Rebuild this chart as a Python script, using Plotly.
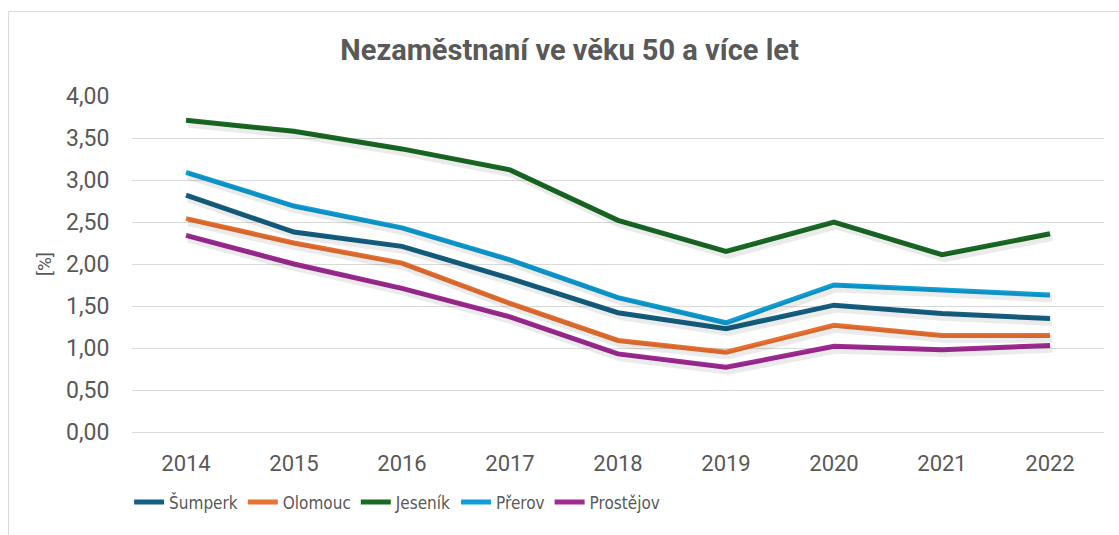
import plotly.graph_objects as go

years = ["2014", "2015", "2016", "2017", "2018", "2019", "2020", "2021", "2022"]
sumperk = [2.82, 2.38, 2.21, 1.83, 1.42, 1.23, 1.51, 1.41, 1.35]
olomouc = [2.54, 2.25, 2.01, 1.53, 1.09, 0.95, 1.27, 1.15, 1.15]
jesenik = [3.71, 3.58, 3.37, 3.12, 2.52, 2.15, 2.50, 2.11, 2.36]
prerov = [3.09, 2.69, 2.43, 2.05, 1.60, 1.30, 1.75, 1.69, 1.63]
prostejov = [2.34, 2.00, 1.71, 1.37, 0.93, 0.77, 1.02, 0.98, 1.03]

series = [
    ("Šumperk", sumperk, "#156082"),
    ("Olomouc", olomouc, "#E97132"),
    ("Jeseník", jesenik, "#196B24"),
    ("Přerov", prerov, "#0F9ED5"),
    ("Prostějov", prostejov, "#A02B93"),
]

FONT = "Roboto"
NARROW = "DejaVu Sans Condensed"
GRAY = "#595959"

fig = go.Figure()
# soft drop shadows on a slightly shifted overlay axis pair
for name, vals, col in series:
    fig.add_trace(go.Scatter(x=years, y=vals, mode="lines", showlegend=False,
                             hoverinfo="skip", xaxis="x2", yaxis="y2",
                             line=dict(color="rgba(0,0,0,0.08)", width=8)))
for name, vals, col in series:
    fig.add_trace(go.Scatter(x=years, y=vals, mode="lines", name=name,
                             line=dict(color=col, width=5)))

fig.update_layout(
    width=1119, height=535,
    paper_bgcolor="white", plot_bgcolor="white",
    separators=", ",
    margin=dict(l=132, r=15, t=96, b=103),
    font=dict(family=FONT, color=GRAY, size=18),
    title=dict(text="<b>Nezaměstnaní ve věku 50 a více let</b>",
               x=0.509, xref="container", xanchor="center",
               y=0.907, yanchor="middle",
               font=dict(family=FONT, size=29, color=GRAY)),
    xaxis=dict(type="category", range=[-0.5, 8.5], showgrid=False,
               zeroline=False, showline=False, ticks="outside", ticklen=12,
               tickcolor="rgba(0,0,0,0)",
               tickfont=dict(size=22, color=GRAY)),
    xaxis2=dict(type="category", range=[-0.52, 8.48], overlaying="x",
                visible=False),
    yaxis=dict(range=[0, 4], dtick=0.5, tickformat=".2f",
               showgrid=True, gridcolor="#D9D9D9", gridwidth=1,
               zeroline=True, zerolinecolor="#D9D9D9", zerolinewidth=1,
               showline=False, ticks="outside", ticklen=17,
               tickcolor="rgba(0,0,0,0)",
               tickfont=dict(size=23, color=GRAY),
               title=dict(text="[%]", standoff=9,
                          font=dict(size=19, color=GRAY))),
    yaxis2=dict(range=[0.04, 4.04], overlaying="y", visible=False),
    legend=dict(orientation="h", x=-0.003, xanchor="left", y=-0.21,
                yanchor="middle", font=dict(family=NARROW, size=17, color=GRAY),
                itemwidth=30, tracegroupgap=0, bgcolor="rgba(0,0,0,0)"),
    shapes=[dict(type="rect", xref="paper", yref="paper",
                 x0=(8.5 - 132) / 972, x1=(1130 - 132) / 972,
                 y0=(432 - 560) / 336, y1=(432 - 11.5) / 336,
                 line=dict(color="#D9D9D9", width=1), layer="below")],
)

fig.write_html("out.html", config={"displayModeBar": False},
               post_script="document.body.style.margin='0';")
